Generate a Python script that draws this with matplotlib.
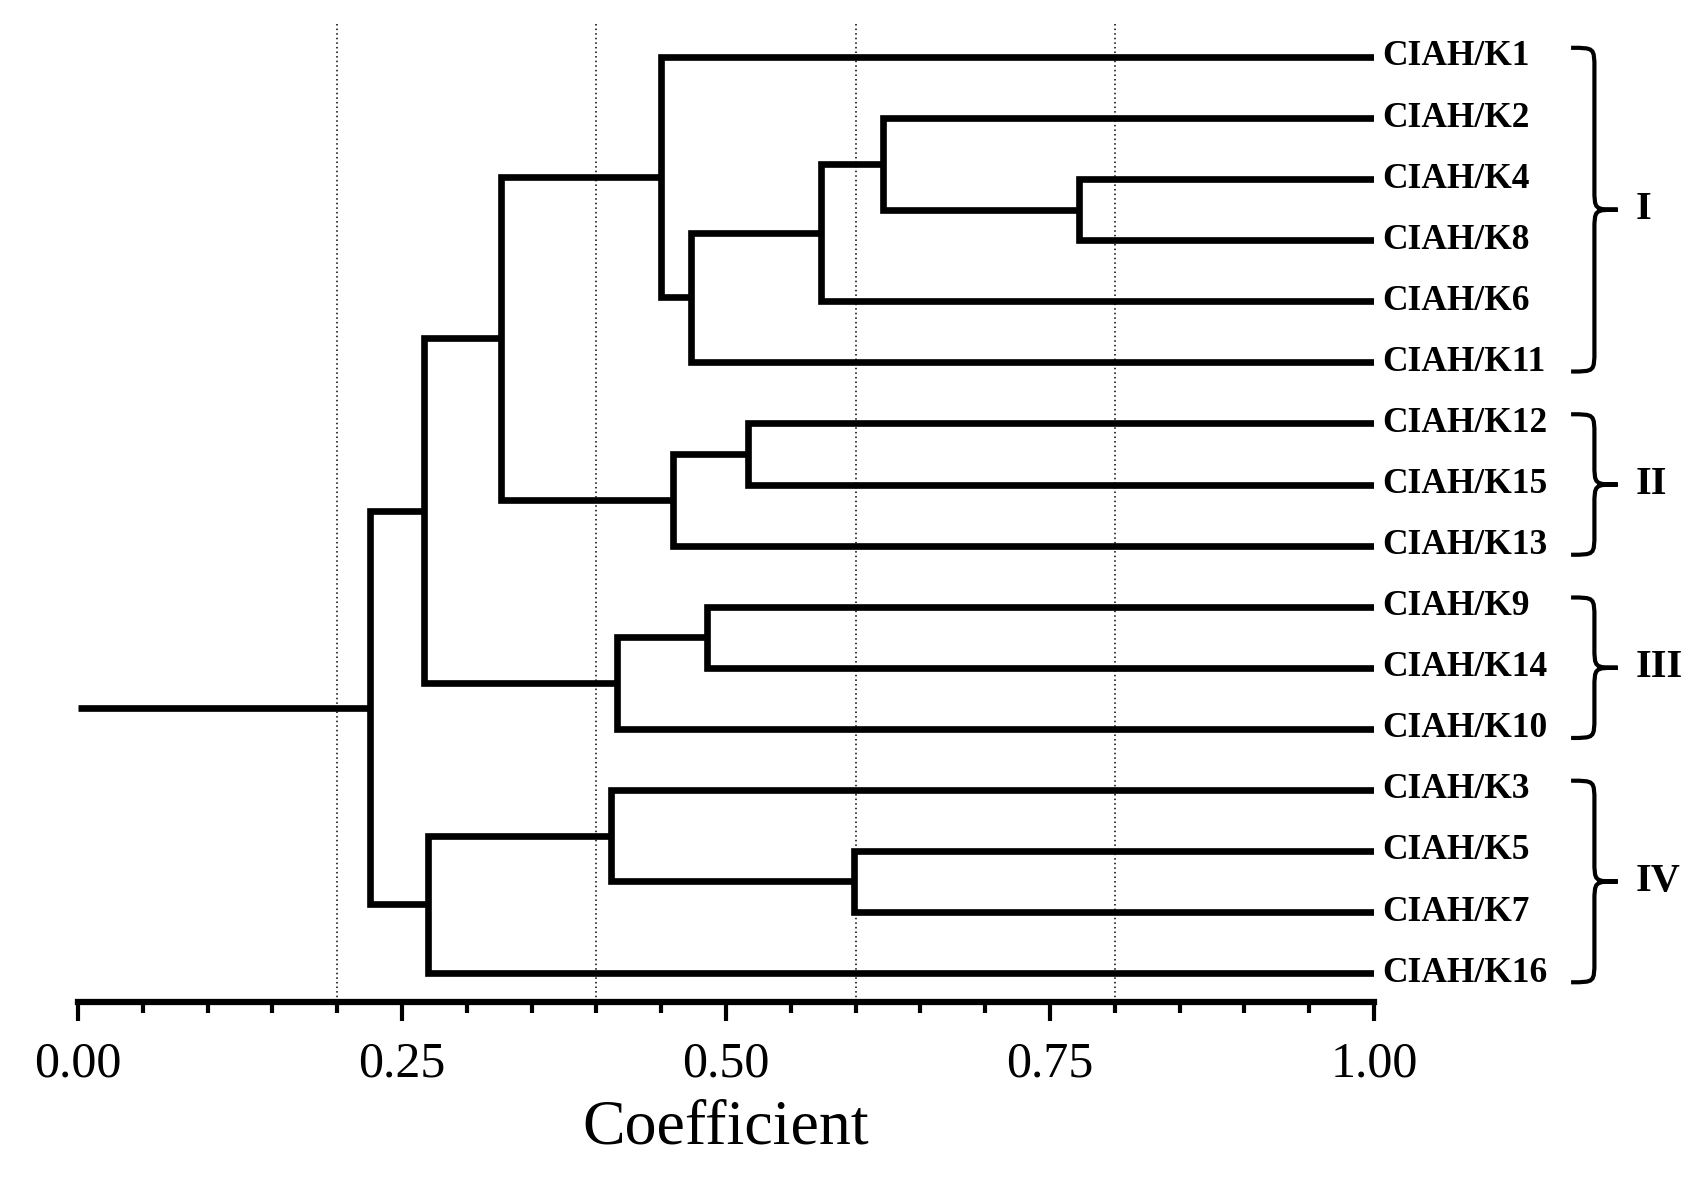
import matplotlib
matplotlib.use("Agg")
import matplotlib.pyplot as plt
from matplotlib.path import Path
from matplotlib.patches import PathPatch
from matplotlib.ticker import MultipleLocator

plt.rcParams['font.family'] = ['Liberation Serif', 'DejaVu Serif']

# leaves, top to bottom
leaves = ["CIAH/K1", "CIAH/K2", "CIAH/K4", "CIAH/K8", "CIAH/K6", "CIAH/K11",
          "CIAH/K12", "CIAH/K15", "CIAH/K13", "CIAH/K9", "CIAH/K14", "CIAH/K10",
          "CIAH/K3", "CIAH/K5", "CIAH/K7", "CIAH/K16"]

# merges: left child, right child, coefficient at which they join
merge_left = ["CIAH/K4", "CIAH/K2", "n2", "n3", "CIAH/K1", "CIAH/K12", "n6", "n5",
              "CIAH/K9", "n9", "n8", "CIAH/K5", "CIAH/K3", "n13", "n11"]
merge_right = ["CIAH/K8", "n1", "CIAH/K6", "CIAH/K11", "n4", "CIAH/K15", "CIAH/K13", "n7",
               "CIAH/K14", "CIAH/K10", "n10", "CIAH/K7", "n12", "CIAH/K16", "n14"]
merge_coef = [0.772, 0.621, 0.573, 0.473, 0.450, 0.517, 0.459, 0.326,
              0.485, 0.416, 0.267, 0.599, 0.411, 0.270, 0.2255]

# clusters marked by braces
group_names = ["I", "II", "III", "IV"]
group_first = ["CIAH/K1", "CIAH/K12", "CIAH/K9", "CIAH/K3"]
group_last = ["CIAH/K11", "CIAH/K13", "CIAH/K10", "CIAH/K16"]

grid_x = [0.2, 0.4, 0.6, 0.8]

fig = plt.figure(figsize=(16.86, 11.86), dpi=100)
ax = fig.add_axes([0.0463, 0.1551, 0.7687, 0.8449])

lw = 4.8
pos = {}
for i, name in enumerate(leaves):
    pos[name] = (1.0, i)

for k, (a, b, c) in enumerate(zip(merge_left, merge_right, merge_coef)):
    xa, ya = pos[a]
    xb, yb = pos[b]
    ax.plot([xa, c, c, xb], [ya, ya, yb, yb], color='black', lw=lw,
            solid_joinstyle='miter', solid_capstyle='butt', zorder=3)
    pos["n%d" % (k + 1)] = (c, (ya + yb) / 2)

# root tail
xr, yr = pos["n15"]
ax.plot([0, xr], [yr, yr], color='black', lw=lw, solid_capstyle='butt', zorder=3)

# dotted guide lines
for gx in grid_x:
    ax.plot([gx, gx], [-0.54, 15.474], color='black', lw=1.1,
            linestyle=(0, (1, 2)), zorder=1, clip_on=False)

ax.set_xlim(0, 1)
ax.set_ylim(15.474, -0.933)
for s in ['top', 'right', 'left']:
    ax.spines[s].set_visible(False)
ax.spines['bottom'].set_linewidth(4.5)
ax.set_yticks([])
ax.xaxis.set_minor_locator(MultipleLocator(0.05))
ax.set_xticks([0, 0.25, 0.5, 0.75, 1.0])
ax.set_xticklabels(["0.00", "0.25", "0.50", "0.75", "1.00"])
ax.tick_params(axis='x', which='major', direction='out', length=14, width=3,
               labelsize=36, pad=14)
ax.tick_params(axis='x', which='minor', direction='out', length=8, width=3)

ax.text(0.5, -0.126, "Coefficient", transform=ax.transAxes, ha='center',
        va='center', fontsize=46)

# leaf labels
for i, name in enumerate(leaves):
    ax.text(1.006, i, name, ha='left', va='center', fontsize=25.5,
            fontweight='bold', clip_on=False)

# braces
def brace(x0, w, yt, yb, r=0.35):
    xm = x0 + w / 2
    x2 = x0 + w
    ym = (yt + yb) / 2
    verts = [(x0, yt), (xm, yt), (xm, yt), (xm, yt + r),
             (xm, ym - r),
             (xm, ym), (xm, ym), (x2, ym),
             (xm, ym), (xm, ym), (xm, ym + r),
             (xm, yb - r),
             (xm, yb), (xm, yb), (x0, yb)]
    codes = [Path.MOVETO, Path.CURVE4, Path.CURVE4, Path.CURVE4,
             Path.LINETO,
             Path.CURVE4, Path.CURVE4, Path.CURVE4,
             Path.CURVE4, Path.CURVE4, Path.CURVE4,
             Path.LINETO,
             Path.CURVE4, Path.CURVE4, Path.CURVE4]
    ax.add_patch(PathPatch(Path(verts, codes), fill=False, lw=3,
                           color='black', clip_on=False))
    return x2, ym

for gname, a, b in zip(group_names, group_first, group_last):
    yt = leaves.index(a) - 0.15
    yb = leaves.index(b) + 0.15
    x2, ym = brace(1.152, 0.036, yt, yb)
    ax.text(x2 + 0.014, ym, gname, ha='left', va='center', fontsize=29,
            fontweight='bold', clip_on=False)

fig.savefig("out.png", dpi=100, facecolor='white')
